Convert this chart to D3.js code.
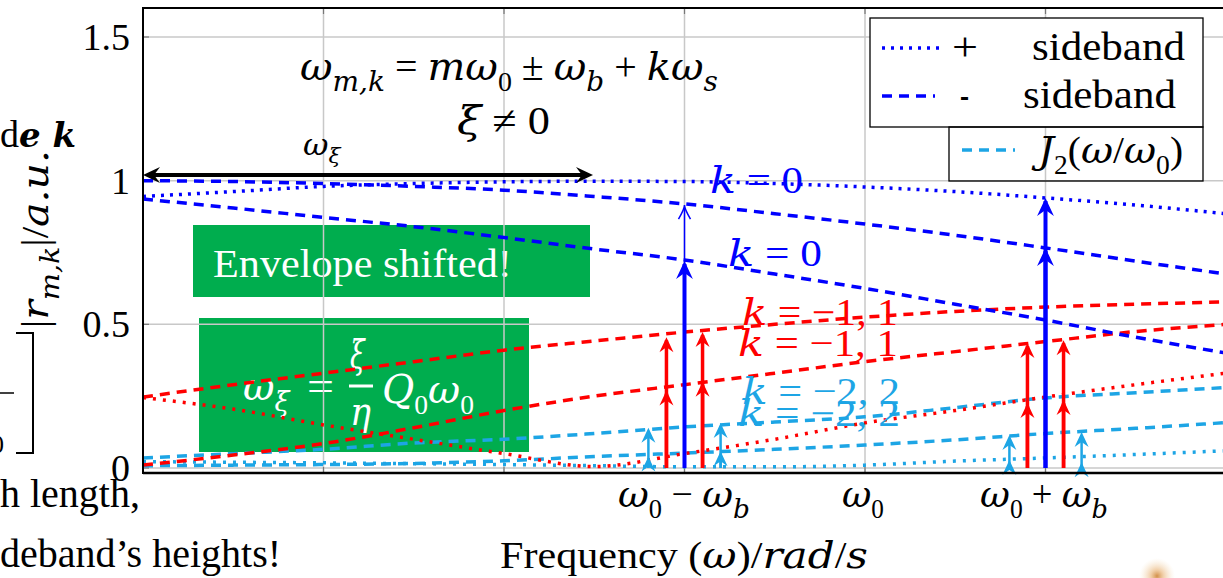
<!DOCTYPE html>
<html>
<head>
<meta charset="utf-8">
<script src="https://cdn.jsdelivr.net/npm/d3@7"></script>
<style>
html,body{margin:0;padding:0;background:#fff;overflow:hidden}
svg{display:block}
text{font-family:"Liberation Serif","Times New Roman",serif}
.it{font-family:"DejaVu Serif",serif;font-style:italic}
</style>
</head>
<body>
<script>
// sample positions, in units of w_b relative to w_0
var xs = [-4,-3.5,-3,-2.5,-2,-1.5,-1,-0.5,0,0.5,1,1.5,2];

// envelopes
var bluePlus   = [0.945,0.962,0.98,0.99,0.996,0.998,0.997,0.99,0.978,0.962,0.94,0.915,0.885];
var blueMinusA = [1.0,0.997,0.99,0.98,0.967,0.945,0.919,0.885,0.849,0.81,0.766,0.72,0.675];
var blueMinusB = [0.936,0.905,0.872,0.84,0.802,0.762,0.724,0.675,0.625,0.57,0.515,0.455,0.40];
var redMinusA  = [0.247,0.29,0.33,0.37,0.41,0.442,0.473,0.50,0.525,0.545,0.56,0.57,0.578];
var redMinusB  = [0.01,0.045,0.085,0.14,0.2,0.25,0.29,0.33,0.37,0.405,0.44,0.475,0.50];
var redPlus    = [0.245,0.205,0.15,0.10,0.05,0.005,0.05,0.10,0.157,0.2,0.247,0.29,0.33];
var cyanMinusA = [0.035,0.05,0.065,0.087,0.1,0.12,0.143,0.16,0.178,0.21,0.244,0.262,0.28];
var cyanMinusB = [0.008,0.01,0.012,0.016,0.025,0.04,0.052,0.065,0.08,0.098,0.12,0.138,0.158];
var cyanPlus   = [0.022,0.02,0.018,0.015,0.012,0.008,0.004,0.004,0.01,0.024,0.035,0.047,0.06];

// sideband stems (x position, height)
var blueStemX = [-1, 1, 1];
var blueStemTop = [0.72, 0.766, 0.94];
var blueThinStemX = [-1];
var blueThinStemTop = [0.915];
var redStemX = [-1.1,-1.1,-0.9,-0.9,0.9,0.9,1.1,1.1];
var redStemTop = [0.455,0.27,0.473,0.30,0.435,0.226,0.445,0.237];
var cyanStemX = [-1.2,-1.2,-0.8,-0.8,0.8,0.8,1.2,1.2];
var cyanStemTop = [0.14,0.04,0.157,0.058,0.115,0.028,0.125,0.02];

// ticks
var xGrid = [-3,-2,-1,0,1];
var xTicks = [-1,0,1];
var xTickLabels = [
  [["ω","i"],["0","sr"],[" − ","r"],["ω","i"],["b","si"]],
  [["ω","i"],["0","sr"]],
  [["ω","i"],["0","sr"],[" + ","r"],["ω","i"],["b","si"]]
];
var yTicks = [0,0.5,1,1.5];
var yTickLabels = ["0","0.5","1","1.5"];

var W = 1223, H = 578;
var BLUE = "#0000ff", RED = "#ff0000", CYAN = "#1da5e5", GREEN = "#00ad4e";

var svg = d3.select("body").append("svg").attr("width", W).attr("height", H);

var x = d3.scaleLinear().domain([-4, 2]).range([143, 1226]);
var y = d3.scaleLinear().domain([0, 1.5]).range([468, 37]);
var pTop = 8, pBot = 473, pLeft = 143, pRight = 1226;

// text with italic / subscript pieces
function mtext(parent, parts, size, color) {
  var t = parent.append("text").attr("font-size", size).attr("fill", color || "#000");
  var shift = 0;
  parts.forEach(function(p) {
    var sub = p[1].charAt(0) == "s";
    var it = p[1].indexOf("i") >= 0;
    var target = sub ? size * 0.28 : 0;
    var ts = t.append("tspan").text(p[0])
      .attr("font-size", sub ? size * 0.7 : size)
      .attr("dy", target - shift);
    if (it) ts.attr("class", "it");
    shift = target;
  });
  return t;
}
// squeeze/stretch a text between x0 and x1
function fit(t, x0, x1, base) {
  t.attr("x", 0).attr("y", base);
  var b = t.node().getBBox();
  var sx = (x1 - x0) / b.width;
  t.attr("transform", "translate(" + (x0 - b.x * sx) + ",0) scale(" + sx + ",1)");
  return t;
}

// ---- green boxes from the slide (under the plot)
svg.append("rect").attr("x", 193).attr("y", 225).attr("width", 397).attr("height", 72).attr("fill", GREEN);
fit(mtext(svg, [["Envelope shifted!","r"]], 40, "#fff"), 213, 512, 277);

svg.append("rect").attr("x", 199).attr("y", 318).attr("width", 330).attr("height", 134).attr("fill", GREEN);
fit(mtext(svg, [["ω","i"],["ξ","si"]], 40, "#fff"), 243, 291, 400);
fit(mtext(svg, [["=","r"]], 42, "#fff"), 307, 334, 400);
fit(mtext(svg, [["ξ","i"]], 40, "#fff"), 350, 366, 368);
svg.append("rect").attr("x", 349).attr("y", 384.5).attr("width", 24).attr("height", 3).attr("fill", "#fff");
fit(mtext(svg, [["η","i"]], 40, "#fff"), 350, 371, 425);
fit(mtext(svg, [["Q","i"],["0","sr"],["ω","i"],["0","sr"]], 40, "#fff"), 382, 474, 403);

// ---- grid
var grid = svg.append("g").attr("stroke", "#c8c8c8").attr("stroke-width", 1.5);
grid.selectAll(".gx").data(xGrid).enter().append("line")
  .attr("x1", function(d) { return x(d); }).attr("x2", function(d) { return x(d); })
  .attr("y1", pTop).attr("y2", pBot);
grid.selectAll(".gy").data(yTicks).enter().append("line")
  .attr("x1", pLeft).attr("x2", pRight)
  .attr("y1", function(d) { return y(d); }).attr("y2", function(d) { return y(d); });
// tick marks
var tk = svg.append("g").attr("stroke", "#777").attr("stroke-width", 1.2);
xGrid.forEach(function(d) {
  tk.append("line").attr("x1", x(d)).attr("x2", x(d)).attr("y1", pTop).attr("y2", pTop + 6);
  tk.append("line").attr("x1", x(d)).attr("x2", x(d)).attr("y1", pBot - 6).attr("y2", pBot);
});
yTicks.forEach(function(d) {
  tk.append("line").attr("x1", pLeft).attr("x2", pLeft + 6).attr("y1", y(d)).attr("y2", y(d));
});

// ---- curves
svg.append("clipPath").attr("id", "clip").append("rect")
  .attr("x", pLeft).attr("y", pTop).attr("width", pRight - pLeft).attr("height", pBot - pTop);
var plot = svg.append("g").attr("clip-path", "url(#clip)");
var line = d3.line().x(function(d, i) { return x(xs[i]); }).y(function(d) { return y(d); })
  .curve(d3.curveMonotoneX);

var curves = [
  [cyanPlus, CYAN, "3 7"], [cyanMinusB, CYAN, "10 7"], [cyanMinusA, CYAN, "10 7"],
  [redPlus, RED, "3 7"], [redMinusB, RED, "10 7"], [redMinusA, RED, "10 7"],
  [blueMinusB, BLUE, "10 7"], [blueMinusA, BLUE, "10 7"], [bluePlus, BLUE, "3 6"]
];
curves.forEach(function(c) {
  plot.append("path").datum(c[0]).attr("d", line)
    .attr("fill", "none").attr("stroke", c[1]).attr("stroke-width", 3.5)
    .attr("stroke-dasharray", c[2]);
});

// ---- stems with arrow heads
function head(g, px, py, s, color, open) {
  var p = "M" + px + "," + py + " L" + (px - 7 * s) + "," + (py + 15 * s) +
          " L" + px + "," + (py + 10 * s) + " L" + (px + 7 * s) + "," + (py + 15 * s) + " Z";
  if (open) {
    p = "M" + (px - 6 * s) + "," + (py + 14 * s) + " Q" + px + "," + (py + 4 * s) + " " + px + "," + py +
        " Q" + px + "," + (py + 4 * s) + " " + (px + 6 * s) + "," + (py + 14 * s);
    g.append("path").attr("d", p).attr("fill", "none").attr("stroke", color).attr("stroke-width", 1.5);
  } else {
    g.append("path").attr("d", p).attr("fill", color);
  }
}
function stems(xv, tv, color, w, s, open) {
  var g = svg.append("g");
  xv.forEach(function(d, i) {
    g.append("line").attr("x1", x(d)).attr("x2", x(d)).attr("y1", y(0)).attr("y2", y(tv[i]) + 3)
      .attr("stroke", color).attr("stroke-width", w);
    head(g, x(d), y(tv[i]), s, color, open);
  });
}
stems(cyanStemX, cyanStemTop, CYAN, 2.5, 1, false);
stems(redStemX, redStemTop, RED, 3.5, 1, false);
stems(blueThinStemX, blueThinStemTop, BLUE, 1.5, 1, true);
stems(blueStemX, blueStemTop, BLUE, 4, 1.2, false);

// ---- frame
var fr = svg.append("g").attr("stroke", "#000");
fr.append("line").attr("x1", pLeft).attr("x2", pLeft).attr("y1", pTop - 1).attr("y2", pBot + 1).attr("stroke-width", 2);
fr.append("line").attr("x1", pLeft).attr("x2", W).attr("y1", pTop).attr("y2", pTop).attr("stroke-width", 2);
fr.append("line").attr("x1", pLeft).attr("x2", W).attr("y1", pBot).attr("y2", pBot).attr("stroke-width", 2.5);

// ---- legend
var lg = svg.append("g");
lg.append("rect").attr("x", 870).attr("y", 18).attr("width", 333).attr("height", 109)
  .attr("fill", "#fff").attr("stroke", "#000").attr("stroke-width", 1.3);
lg.append("line").attr("x1", 882).attr("x2", 940).attr("y1", 48).attr("y2", 48)
  .attr("stroke", BLUE).attr("stroke-width", 3.5).attr("stroke-dasharray", "3 6");
fit(mtext(lg, [["+","r"]], 40), 952, 978, 60);
fit(mtext(lg, [["sideband","r"]], 40), 1032, 1185, 60);
lg.append("line").attr("x1", 882).attr("x2", 935).attr("y1", 96).attr("y2", 96)
  .attr("stroke", BLUE).attr("stroke-width", 3.5).attr("stroke-dasharray", "10 7");
fit(mtext(lg, [["-","r"]], 40), 960, 969, 108);
fit(mtext(lg, [["sideband","r"]], 40), 1023, 1176, 108);
lg.append("rect").attr("x", 949).attr("y", 127).attr("width", 254).attr("height", 54)
  .attr("fill", "none").attr("stroke", "#000").attr("stroke-width", 1.3);
lg.append("line").attr("x1", 962).attr("x2", 1015).attr("y1", 150).attr("y2", 150)
  .attr("stroke", CYAN).attr("stroke-width", 3.5).attr("stroke-dasharray", "10 7");
fit(mtext(lg, [["J","i"],["2","sr"],["(","r"],["ω","i"],["/","r"],["ω","i"],["0","sr"],[")","r"]], 38), 1031, 1183, 163);

// ---- k labels
fit(mtext(svg, [["k","i"],[" = 0","r"]], 38, BLUE), 710, 803, 193);
fit(mtext(svg, [["k","i"],[" = 0","r"]], 38, BLUE), 728, 822, 266);
fit(mtext(svg, [["k","i"],[" = −1, 1","r"]], 38, RED), 742, 898, 325);
fit(mtext(svg, [["k","i"],[" = −1, 1","r"]], 38, RED), 738, 898, 356);
fit(mtext(svg, [["k","i"],[" = −2, 2","r"]], 38, CYAN), 742, 900, 404);
fit(mtext(svg, [["k","i"],[" = −2, 2","r"]], 38, CYAN), 738, 900, 426);

// ---- formulas and the w_xi arrow
fit(mtext(svg, [["ω","i"],["m,k","si"],[" = ","r"],["mω","i"],["0","sr"],[" ± ","r"],["ω","i"],["b","si"],[" + ","r"],["kω","i"],["s","si"]], 40),
  300, 718, 80);
fit(mtext(svg, [["ξ","i"],[" ≠ 0","r"]], 40), 457, 550, 134);
fit(mtext(svg, [["ω","i"],["ξ","si"]], 30), 303, 342, 155);

var ay = 175, ax0 = x(-4), ax1 = 593;
svg.append("line").attr("x1", ax0 + 8).attr("x2", ax1 - 8).attr("y1", ay).attr("y2", ay)
  .attr("stroke", "#000").attr("stroke-width", 4);
svg.append("path").attr("fill", "#000")
  .attr("d", "M" + ax0 + "," + ay + " L" + (ax0 + 17) + "," + (ay - 8) + " L" + (ax0 + 11) + "," + ay + " L" + (ax0 + 17) + "," + (ay + 8) + " Z");
svg.append("path").attr("fill", "#000")
  .attr("d", "M" + ax1 + "," + ay + " L" + (ax1 - 17) + "," + (ay - 8) + " L" + (ax1 - 11) + "," + ay + " L" + (ax1 - 17) + "," + (ay + 8) + " Z");

// ---- axis labels
yTicks.forEach(function(d, i) {
  svg.append("text").attr("x", 130).attr("y", y(d) + 13).attr("text-anchor", "end")
    .attr("font-size", 38).text(yTickLabels[i]);
});
var xSpan = [[618, 750], [842, 884], [980, 1108]];
xTicks.forEach(function(d, i) {
  fit(mtext(svg, xTickLabels[i], 38), xSpan[i][0], xSpan[i][1], 507);
});
fit(mtext(svg, [["Frequency (","r"],["ω","i"],[")/","r"],["rad","i"],["/","r"],["s","i"]], 38), 500, 868, 568);

var yl = svg.append("g").attr("transform", "translate(48,328) rotate(-90)");
fit(mtext(yl, [["|","r"],["r","i"],["m,k","si"],["|/","r"],["a.u.","i"]], 38), 0, 178, 0);

// ---- pieces of the slide around the chart
var sl = svg.append("g");
var dk = sl.append("text").attr("x", 0).attr("y", 147).attr("font-size", 38);
dk.append("tspan").text("d");
dk.append("tspan").text("e k").attr("class", "it").attr("font-weight", "bold").attr("font-size", 34);
sl.append("text").attr("x", 0).attr("y", 507).attr("font-size", 40).text("h length,");
sl.append("text").attr("x", 0).attr("y", 567).attr("font-size", 40).text("deband’s heights!");
sl.append("path").attr("d", "M16,333 L33,333 L33,453 L16,453").attr("fill", "none")
  .attr("stroke", "#000").attr("stroke-width", 2);
sl.append("line").attr("x1", 0).attr("x2", 14).attr("y1", 393).attr("y2", 393)
  .attr("stroke", "#000").attr("stroke-width", 1.5);
sl.append("text").attr("x", -9).attr("y", 453).attr("font-size", 26).text("0");

var gr = svg.append("defs").append("radialGradient").attr("id", "blob");
gr.append("stop").attr("offset", "0%").attr("stop-color", "#d08a40").attr("stop-opacity", 0.95);
gr.append("stop").attr("offset", "35%").attr("stop-color", "#e8b070").attr("stop-opacity", 0.6);
gr.append("stop").attr("offset", "100%").attr("stop-color", "#f5e0c0").attr("stop-opacity", 0);
svg.append("circle").attr("cx", 1157).attr("cy", 576).attr("r", 18).attr("fill", "url(#blob)");
</script>
</body>
</html>
